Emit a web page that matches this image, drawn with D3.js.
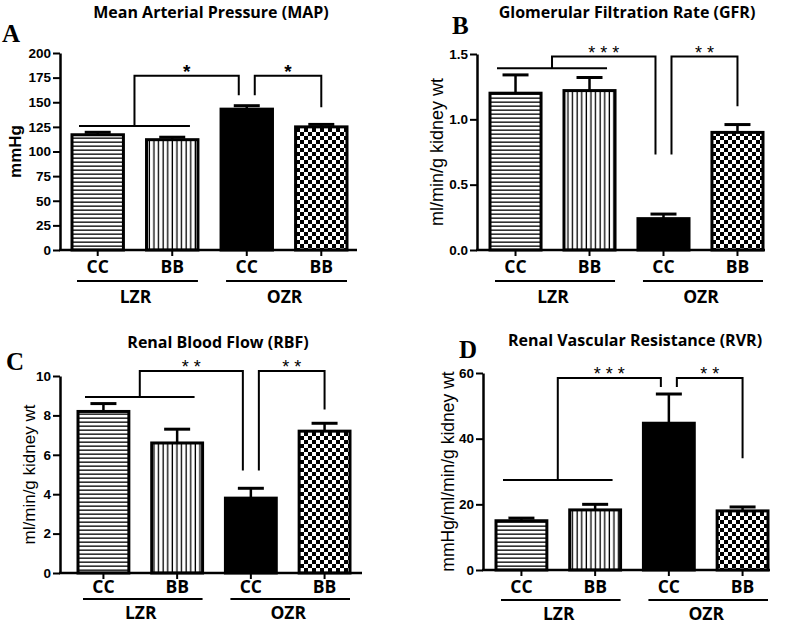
<!DOCTYPE html>
<html><head><meta charset="utf-8">
<script src="https://cdn.jsdelivr.net/npm/d3@7"></script>
<style>body{margin:0;background:#fff} svg{display:block}</style>
</head><body>
<script>
// ---------- data ----------
const categories = ["CC", "BB", "CC", "BB"];
const groups = ["LZR", "OZR"];
const barFills = ["hl", "vl", "solid", "ck"];

const mapMean = [117, 112, 143, 125];
const mapSem = [2.5, 2.5, 3.5, 2.5];
const mapTicks = [0, 25, 50, 75, 100, 125, 150, 175, 200];
const mapBrackets = [126, 177, 157, 145];   // LZR line, top, OZR-CC drop, OZR-BB drop
const mapStars = ["*", "*"];

const gfrMean = [1.20, 1.22, 0.24, 0.90];
const gfrSem = [0.14, 0.10, 0.035, 0.06];
const gfrTicks = [0.0, 0.5, 1.0, 1.5];
const gfrBrackets = [1.39, 1.48, 0.73, 1.10];
const gfrStars = ["* * *", "* *"];

const rbfMean = [8.2, 6.6, 3.8, 7.2];
const rbfSem = [0.4, 0.7, 0.5, 0.4];
const rbfTicks = [0, 2, 4, 6, 8, 10];
const rbfBrackets = [8.93, 10.25, 5.2, 8.3];
const rbfStars = ["* *", "* *"];

const rvrMean = [15.0, 18.3, 44.7, 18.0];
const rvrSem = [0.8, 1.7, 8.9, 1.2];
const rvrTicks = [0, 20, 40, 60];
const rvrBrackets = [27.4, 58.5, 55.7, 34];
const rvrStars = ["* * *", "* *"];

// ---------- layout ----------
const panels = [
  {mean: mapMean, sem: mapSem, ticks: mapTicks, br: mapBrackets, stars: mapStars, fmt: d3.format("d"),
   title: "Mean Arterial Pressure (MAP)", titleX: 211, titleY: 18, letter: "A", letterX: 2, letterY: 42,
   yLabel: "mmHg", yLabelBold: true, yLabelSize: 17, yLabelX: 15,
   axisX: 60, axisEnd: 357, yTop: 53, yBot: 250, barL: 72, barR: 347,
   ccY: 273, ulY: 281, grpY: 303, starBold: true, starSize: 19},
  {mean: gfrMean, sem: gfrSem, ticks: gfrTicks, br: gfrBrackets, stars: gfrStars, fmt: d3.format(".1f"),
   title: "Glomerular Filtration Rate (GFR)", titleX: 627, titleY: 18, letter: "B", letterX: 452, letterY: 34,
   yLabel: "ml/min/g kidney wt", yLabelBold: false, yLabelSize: 18, yLabelX: 437,
   axisX: 477, axisEnd: 765, yTop: 54, yBot: 250, barL: 490, barR: 763,
   ccY: 273, ulY: 281, grpY: 303, starBold: false, starSize: 18},
  {mean: rbfMean, sem: rbfSem, ticks: rbfTicks, br: rbfBrackets, stars: rbfStars, fmt: d3.format("d"),
   title: "Renal Blood Flow (RBF)", titleX: 218, titleY: 348, letter: "C", letterX: 6, letterY: 370,
   yLabel: "ml/min/g kidney wt", yLabelBold: false, yLabelSize: 17, yLabelX: 29,
   axisX: 60, axisEnd: 362, yTop: 376, yBot: 573, barL: 78, barR: 350,
   ccY: 593, ulY: 599, grpY: 619, starBold: false, starSize: 18},
  {mean: rvrMean, sem: rvrSem, ticks: rvrTicks, br: rvrBrackets, stars: rvrStars, fmt: d3.format("d"),
   title: "Renal Vascular Resistance (RVR)", titleX: 635, titleY: 346, letter: "D", letterX: 459, letterY: 358,
   yLabel: "mmHg/ml/min/g kidney wt", yLabelBold: false, yLabelSize: 17.5, yLabelX: 448,
   axisX: 483, axisEnd: 770, yTop: 373, yBot: 570, barL: 496, barR: 768,
   ccY: 593, ulY: 600, grpY: 620, starBold: false, starSize: 18}
];

const W = 785, H = 624;
const svg = d3.select("body").append("svg").attr("width", W).attr("height", H);
const defs = svg.append("defs");

const hl = defs.append("pattern").attr("id", "hl").attr("patternUnits", "userSpaceOnUse").attr("width", 6).attr("height", 4);
hl.append("rect").attr("width", 6).attr("height", 4).attr("fill", "#fff");
hl.append("rect").attr("y", 1.5).attr("width", 6).attr("height", 1.3).attr("fill", "#000");

const vl = defs.append("pattern").attr("id", "vl").attr("patternUnits", "userSpaceOnUse").attr("width", 4.6).attr("height", 6);
vl.append("rect").attr("width", 4.6).attr("height", 6).attr("fill", "#fff");
vl.append("rect").attr("x", 1.5).attr("width", 1.3).attr("height", 6).attr("fill", "#000");

const ck = defs.append("pattern").attr("id", "ck").attr("patternUnits", "userSpaceOnUse").attr("width", 8).attr("height", 8);
ck.append("rect").attr("width", 8).attr("height", 8).attr("fill", "#fff");
ck.append("rect").attr("width", 4).attr("height", 4).attr("fill", "#000");
ck.append("rect").attr("x", 4).attr("y", 4).attr("width", 4).attr("height", 4).attr("fill", "#000");

const sansBold = "'Open Sans', Lato, sans-serif";
const arial = "'Liberation Sans', Arial, sans-serif";

panels.forEach(p => {
  const g = svg.append("g");
  const yMax = p.ticks[p.ticks.length - 1];
  const y = d3.scaleLinear().domain([0, yMax]).range([p.yBot, p.yTop]);
  const x = d3.scaleBand().domain(d3.range(categories.length)).range([p.barL, p.barR]).paddingInner(0.31).paddingOuter(0);
  const bw = x.bandwidth();
  const cx = i => x(i) + bw / 2;

  // title & letter
  g.append("text").attr("x", p.titleX).attr("y", p.titleY).attr("text-anchor", "middle")
    .style("font-family", sansBold).style("font-weight", 700).style("font-size", "16px").text(p.title);
  g.append("text").attr("x", p.letterX).attr("y", p.letterY)
    .style("font-family", "'Liberation Serif', 'Times New Roman', serif").style("font-weight", 700).style("font-size", "25px").text(p.letter);

  // bars
  g.selectAll("rect.bar").data(p.mean).join("rect").attr("class", "bar")
    .attr("x", (d, i) => x(i)).attr("width", bw)
    .attr("y", d => y(d)).attr("height", d => y(0) - y(d))
    .attr("fill", (d, i) => barFills[i] === "solid" ? "#000" : `url(#${barFills[i]})`)
    .attr("stroke", "#000").attr("stroke-width", 3);

  // error bars (upward only)
  const capW = 26;
  p.mean.forEach((m, i) => {
    g.append("line").attr("x1", cx(i)).attr("x2", cx(i)).attr("y1", y(m)).attr("y2", y(m + p.sem[i]))
      .attr("stroke", "#000").attr("stroke-width", 2.5);
    g.append("line").attr("x1", cx(i) - capW / 2).attr("x2", cx(i) + capW / 2)
      .attr("y1", y(m + p.sem[i])).attr("y2", y(m + p.sem[i]))
      .attr("stroke", "#000").attr("stroke-width", 3);
  });

  // y axis
  const yAxis = d3.axisLeft(y).tickValues(p.ticks).tickFormat(p.fmt).tickSize(7).tickPadding(2).tickSizeOuter(0);
  const ya = g.append("g").attr("transform", `translate(${p.axisX},0)`).call(yAxis);
  ya.select(".domain").attr("stroke-width", 2.5);
  ya.selectAll(".tick line").attr("stroke-width", 2);
  ya.selectAll(".tick text").style("font-family", arial).style("font-weight", 700).style("font-size", "13.5px").attr("fill", "#000");

  // x axis line
  g.append("line").attr("x1", p.axisX - 1).attr("x2", p.axisEnd).attr("y1", y(0)).attr("y2", y(0))
    .attr("stroke", "#000").attr("stroke-width", 2.5);
  categories.forEach((c, i) => {
    g.append("line").attr("x1", cx(i)).attr("x2", cx(i)).attr("y1", y(0)).attr("y2", y(0) + 6)
      .attr("stroke", "#000").attr("stroke-width", 2);
    g.append("text").attr("x", cx(i)).attr("y", p.ccY).attr("text-anchor", "middle")
      .style("font-family", sansBold).style("font-weight", 700).style("font-size", "17.5px").text(c);
  });

  // group underline + label
  groups.forEach((gr, k) => {
    const x1 = x(2 * k) + 5, x2 = x(2 * k + 1) + bw;
    g.append("line").attr("x1", x1).attr("x2", x2).attr("y1", p.ulY).attr("y2", p.ulY)
      .attr("stroke", "#000").attr("stroke-width", 2);
    g.append("text").attr("x", (x1 + x2) / 2 - 2).attr("y", p.grpY).attr("text-anchor", "middle")
      .style("font-family", sansBold).style("font-weight", 700).style("font-size", "17.5px").text(gr);
  });

  // y label
  g.append("text").attr("transform", `translate(${p.yLabelX},${(p.yTop + p.yBot) / 2}) rotate(-90)`)
    .attr("text-anchor", "middle").attr("dy", "0.35em")
    .style("font-family", arial).style("font-weight", p.yLabelBold ? 700 : 400).style("font-size", p.yLabelSize + "px")
    .text(p.yLabel);

  // significance brackets
  const [L, T, D1, D2] = p.br;
  const lx1 = x(0) + 7, lx2 = x(1) + bw - 8, mid = (lx1 + lx2) / 2;
  g.append("line").attr("x1", lx1).attr("x2", lx2).attr("y1", y(L)).attr("y2", y(L))
    .attr("stroke", "#000").attr("stroke-width", 2);
  const r1 = cx(2) - 8, l2 = cx(2) + 8, r2 = cx(3);
  g.append("path").attr("d", `M${mid},${y(L)}V${y(T)}H${r1}V${y(D1)}`)
    .attr("fill", "none").attr("stroke", "#000").attr("stroke-width", 2);
  g.append("path").attr("d", `M${l2},${y(D1)}V${y(T)}H${r2}V${y(D2)}`)
    .attr("fill", "none").attr("stroke", "#000").attr("stroke-width", 2);
  [[mid, r1], [l2, r2]].forEach((seg, k) => {
    g.append("text").attr("x", (seg[0] + seg[1]) / 2).attr("y", y(T) + 2).attr("text-anchor", "middle")
      .style("font-family", arial).style("font-weight", p.starBold ? 700 : 400).style("font-size", p.starSize + "px")
      .text(p.stars[k]);
  });
});
</script>
</body></html>
